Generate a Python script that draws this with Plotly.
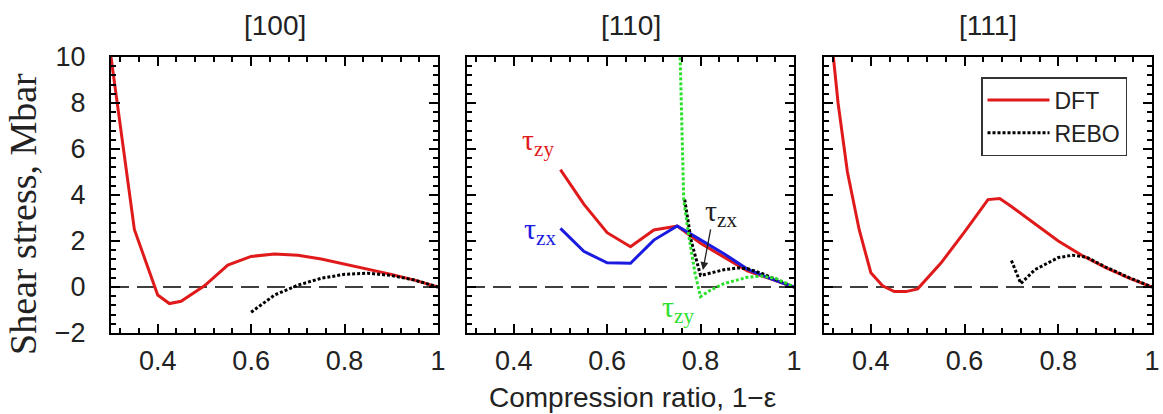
import plotly.graph_objects as go

# [100]
dft_100_x = [0.3, 0.35, 0.4, 0.425, 0.45, 0.5, 0.55, 0.6, 0.65, 0.7, 0.75, 0.8, 0.85, 0.9, 0.95, 1.0]
dft_100_y = [10.0, 2.5, -0.35, -0.72, -0.62, 0.05, 0.95, 1.33, 1.43, 1.38, 1.22, 1.0, 0.78, 0.55, 0.3, 0.0]
rebo_100_x = [0.6, 0.65, 0.7, 0.75, 0.8, 0.85, 0.9, 0.95, 1.0]
rebo_100_y = [-1.1, -0.35, 0.08, 0.38, 0.55, 0.6, 0.5, 0.3, 0.0]

# [110]
dft_zy_110_x = [0.5, 0.55, 0.6, 0.65, 0.7, 0.75, 0.8, 0.85, 0.9, 0.95, 1.0]
dft_zy_110_y = [5.1, 3.6, 2.36, 1.75, 2.48, 2.65, 1.9, 1.3, 0.7, 0.35, 0.0]
dft_zx_110_x = [0.5, 0.55, 0.6, 0.65, 0.7, 0.75, 0.8, 0.85, 0.9, 0.95, 1.0]
dft_zx_110_y = [2.55, 1.55, 1.05, 1.03, 2.04, 2.65, 2.05, 1.45, 0.78, 0.36, 0.0]
rebo_zy_110_x = [0.756, 0.764, 0.774, 0.788, 0.8, 0.82, 0.85, 0.9, 0.93, 0.96, 1.0]
rebo_zy_110_y = [10.2, 3.78, 2.33, 0.6, -0.42, -0.15, 0.15, 0.42, 0.48, 0.38, 0.0]
rebo_zx_110_x = [0.766, 0.78, 0.8, 0.82, 0.85, 0.88, 0.9, 0.93, 0.96, 1.0]
rebo_zx_110_y = [3.8, 2.0, 0.5, 0.6, 0.75, 0.83, 0.8, 0.6, 0.35, 0.0]

# [111]
dft_111_x = [0.3, 0.33, 0.35, 0.375, 0.4, 0.425, 0.45, 0.475, 0.5, 0.55, 0.6, 0.65, 0.675, 0.7, 0.75, 0.8, 0.85, 0.9, 0.95, 1.0]
dft_111_y = [14.0, 8.0, 5.0, 2.5, 0.62, 0.05, -0.2, -0.2, -0.08, 1.05, 2.4, 3.8, 3.85, 3.5, 2.75, 2.0, 1.38, 0.85, 0.4, 0.0]
rebo_111_x = [0.7, 0.72, 0.75, 0.8, 0.83, 0.86, 0.9, 0.95, 1.0]
rebo_111_y = [1.15, 0.15, 0.75, 1.28, 1.38, 1.3, 0.88, 0.42, 0.0]

panel_titles = ["[100]", "[110]", "[111]"]
x_ticks = [0.4, 0.6, 0.8, 1.0]
x_ticktext = ["0.4", "0.6", "0.8", "1"]
y_ticks = [-2, 0, 2, 4, 6, 8, 10]

RED = "#e01a1a"
BLUE = "#1a1ae0"
GREEN = "#2ee02e"
SANS = "Liberation Sans"
SERIF = "Liberation Serif"
INK = "#222"

W, H = 1163, 414
doms = [(111, 438), (467, 794), (824, 1152)]
ytop, ybot = 57, 333

fig = go.Figure()

def solid(x, y, c, ax, name=None, leg=False):
    fig.add_trace(go.Scatter(x=x, y=y, mode="lines", xaxis=ax[0], yaxis=ax[1],
                             line=dict(color=c, width=3), name=name, showlegend=leg))

def dotted(x, y, c, ax, name=None, leg=False):
    fig.add_trace(go.Scatter(x=x, y=y, mode="lines", xaxis=ax[0], yaxis=ax[1],
                             line=dict(color=c, width=3, dash="3px,2px"), name=name, showlegend=leg))

solid(dft_100_x, dft_100_y, RED, ("x", "y"))
dotted(rebo_100_x, rebo_100_y, "black", ("x", "y"))

solid(dft_zy_110_x, dft_zy_110_y, RED, ("x2", "y2"))
solid(dft_zx_110_x, dft_zx_110_y, BLUE, ("x2", "y2"))
dotted(rebo_zx_110_x, rebo_zx_110_y, "black", ("x2", "y2"))
dotted(rebo_zy_110_x, rebo_zy_110_y, GREEN, ("x2", "y2"))

solid(dft_111_x, dft_111_y, RED, ("x3", "y3"), "DFT", True)
dotted(rebo_111_x, rebo_111_y, "black", ("x3", "y3"), "REBO", True)

axis_common = dict(showline=True, linewidth=2, linecolor="black", mirror="allticks",
                   ticks="inside", ticklen=9, tickwidth=1.5, tickcolor="black",
                   showgrid=False, zeroline=False, automargin=False,
                   tickfont=dict(size=27, family=SANS, color=INK))

layout = dict(width=W, height=H, margin=dict(l=0, r=0, t=0, b=0, autoexpand=False),
              paper_bgcolor="white", plot_bgcolor="white",
              font=dict(family=SANS, size=24, color=INK))
shapes = []
annotations = []
for i, (a, b) in enumerate(doms):
    sfx = "" if i == 0 else str(i + 1)
    layout["xaxis" + sfx] = dict(axis_common, domain=[a / W, b / W], range=[0.3, 1.0],
                                 anchor="y" + sfx, tickvals=x_ticks, ticktext=x_ticktext,
                                 ticklabelstandoff=3,
                                 minor=dict(dtick=0.04, tick0=0, ticks="inside", ticklen=5,
                                            tickcolor="black", showgrid=False))
    layout["yaxis" + sfx] = dict(axis_common, domain=[1 - ybot / H, 1 - ytop / H], range=[-2, 10],
                                 anchor="x" + sfx, tickvals=y_ticks, showticklabels=(i == 0),
                                 ticklabelstandoff=18,
                                 minor=dict(dtick=0.4, tick0=0, ticks="inside", ticklen=5,
                                            tickcolor="black", showgrid=False))
    shapes.append(dict(type="line", xref="x" + sfx + " domain", yref="y" + sfx,
                       x0=0, x1=1, y0=0, y1=0, layer="below",
                       line=dict(color="black", width=1.3, dash="18px,8px")))
    annotations.append(dict(text=panel_titles[i], xref="paper", yref="paper",
                            x=(a + b) / 2 / W, y=1 - 25 / H, xanchor="center", yanchor="middle",
                            showarrow=False, font=dict(size=28, family=SANS, color=INK)))

def tau(txt, x, y, c):
    return dict(text=txt, xref="x2", yref="y2", x=x, y=y, showarrow=False,
                xanchor="center", yanchor="middle", font=dict(size=30, family=SERIF, color=c))

annotations += [
    dict(text="Compression ratio, 1\u2212\u03b5", xref="paper", yref="paper",
         x=632 / W, y=1 - 397 / H, xanchor="center", yanchor="middle", showarrow=False,
         font=dict(size=28, family=SANS, color=INK)),
    dict(text="Shear stress, Mbar", xref="paper", yref="paper", textangle=-90,
         x=23 / W, y=1 - 214 / H, xanchor="center", yanchor="middle", showarrow=False,
         font=dict(size=38, family=SERIF, color=INK)),
    tau("\u03c4<sub>zy</sub>", 0.452, 6.3, RED),
    tau("\u03c4<sub>zx</sub>", 0.456, 2.45, BLUE),
    tau("\u03c4<sub>zx</sub>", 0.844, 3.2, INK),
    tau("\u03c4<sub>zy</sub>", 0.752, -0.95, GREEN),
    dict(text="", xref="x2", yref="y2", x=0.805, y=0.74, ax=8, ay=-42, showarrow=True,
         arrowhead=2, arrowsize=1.2, arrowwidth=1.3, arrowcolor=INK),
]

layout["shapes"] = shapes
layout["annotations"] = annotations
layout["legend"] = dict(x=981 / W, y=1 - 77 / H, xanchor="left", yanchor="top",
                        bordercolor="#333", borderwidth=1.5, bgcolor="white",
                        font=dict(size=23, family=SANS, color=INK),
                        itemwidth=62, tracegroupgap=0)

fig.update_layout(layout)
fig.write_html("out.html", config={"displayModeBar": False},
               post_script="document.body.style.margin='0';")
